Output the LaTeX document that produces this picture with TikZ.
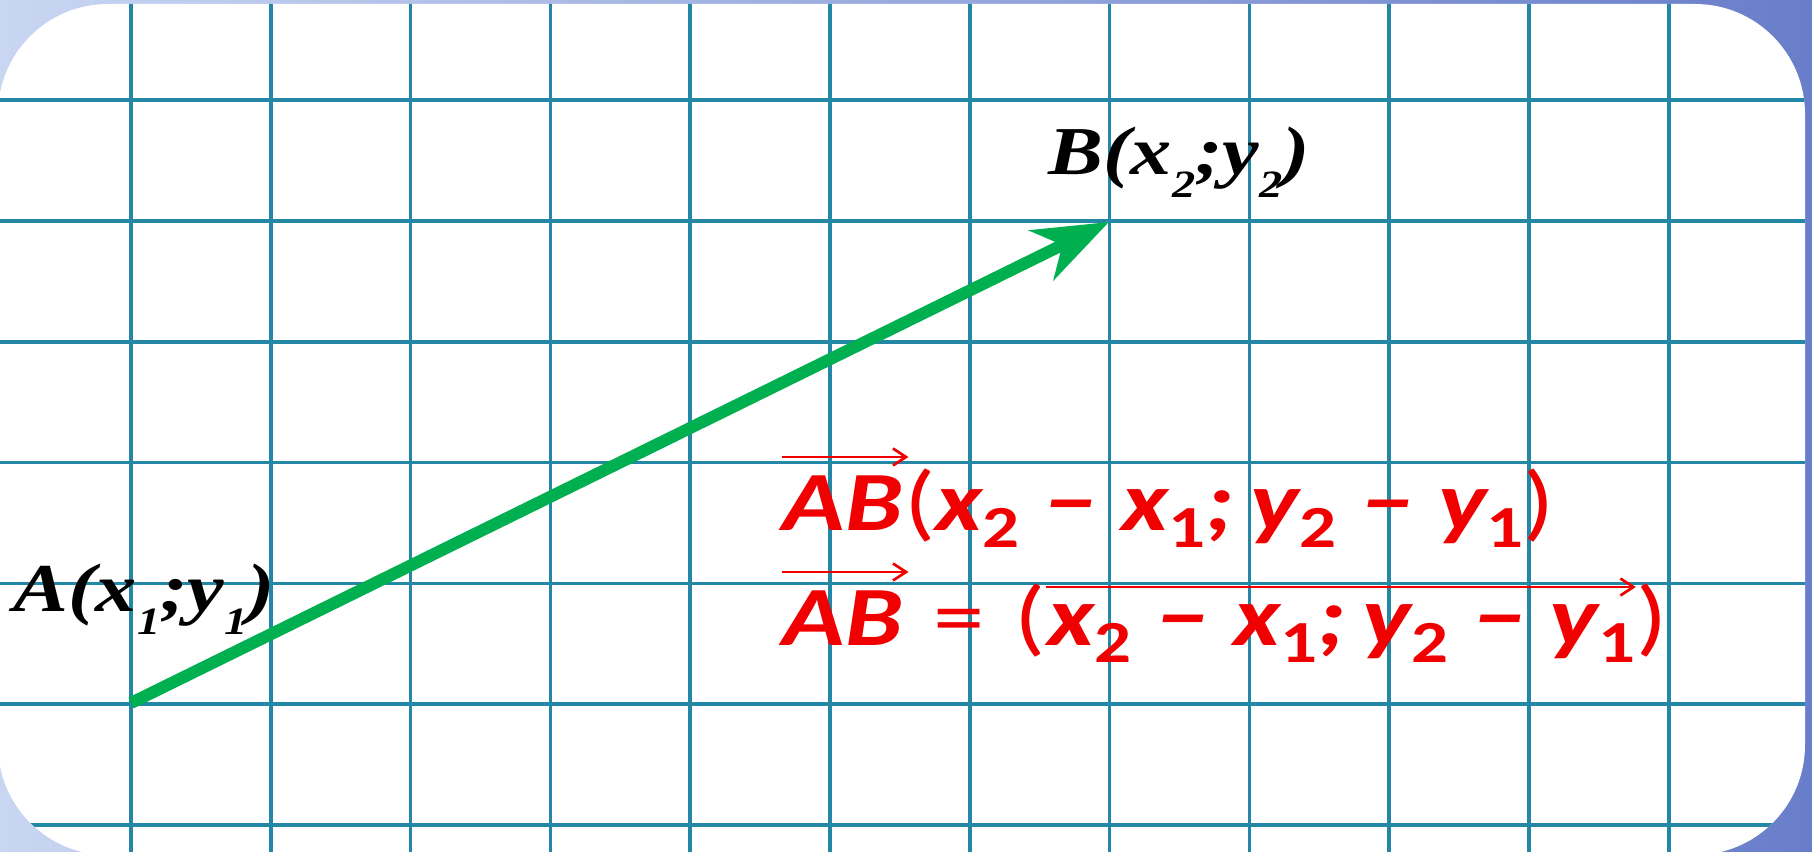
\documentclass[tikz,border=0pt]{standalone}
\usepackage{fontspec}
\setmainfont{Liberation Serif}
\newfontfamily\labelfont[FakeStretch=1.2]{Liberation Serif}
\newfontfamily\calibri[FakeStretch=1.22]{Carlito}
\usepackage{tikz}
\usetikzlibrary{arrows.meta}
\usepackage{xcolor}
\definecolor{gridteal}{RGB}{35,135,165}
\definecolor{vecgreen}{RGB}{0,176,80}
\definecolor{formred}{RGB}{240,0,0}
\definecolor{bgpale}{RGB}{200,214,242}
\definecolor{bgdeep}{RGB}{105,126,202}
\newcommand{\subdig}[1]{\raisebox{-5.1pt}{\fontsize{17}{17}\selectfont\upshape #1}}
\newcommand{\lblsub}[1]{\raisebox{-6.5pt}{\fontsize{11}{11}\selectfont #1}}
\newcommand{\mdpar}[1]{{\upshape\mdseries #1}}

\begin{document}
\begin{tikzpicture}[
  gridline/.style={gridteal, line width=0.035cm},
  vecarrow/.style={vecgreen, line width=0.12cm,
    -{Stealth[length=0.75cm, width=0.55cm, inset=0.23cm]}},
  overarrow/.style={formred, line width=0.027cm,
    -{Straight Barb[length=0.13cm, width=0.17cm]}},
  lbl/.style={font=\labelfont\fontsize{19.5}{20}\selectfont\bfseries\itshape,
    anchor=base west, inner sep=0pt},
  formula/.style={formred, font=\calibri\fontsize{24}{26}\selectfont\bfseries\itshape,
    anchor=base west, inner sep=0pt}
]
  \useasboundingbox (0,0) rectangle (18.12,8.51);

  % 背景
  \shade[left color=bgpale, right color=bgdeep] (0,0) rectangle (18.12,8.51);
  \fill[white, rounded corners=1.1cm] (-0.02,-0.04) rectangle (18.05,8.47);

  % 方格
  \begin{scope}
    \clip[rounded corners=1.1cm] (-0.02,-0.04) rectangle (18.05,8.47);
    \foreach \i in {0,...,11}
      \draw[gridline] ({1.31+1.398*\i},-0.2) -- ++(0,8.9);
    \foreach \j in {0,...,6}
      \draw[gridline] (-0.2,{0.26+1.208*\j}) -- ++(18.5,0);
  \end{scope}

  % 向量 AB
  \coordinate (A) at (1.31,1.48);
  \coordinate (B) at (11.09,6.29);
  \draw[vecarrow] (A) -- (B);

  % 端点标注
  \node[lbl] (labA) at (0.13,2.39) {A(x\lblsub{1};y\lblsub{1})};
  \node[lbl] (labB) at (10.48,6.76) {B(x\lblsub{2};y\lblsub{2})};

  % 第一行：坐标
  \node[formula] (ab1) at (7.82,3.21) {AB};
  \node[formula] (co1) at (ab1.base east)
    {\mdpar{(}x\subdig{2}\hspace{0.3em}−\hspace{0.3em}x\subdig{1};\hspace{0.2em}y\subdig{2}\hspace{0.3em}−\hspace{0.3em}y\subdig{1}\mdpar{)}};
  \draw[overarrow] ([yshift=0.73cm]ab1.base west) -- ([xshift=0.05cm, yshift=0.73cm]ab1.base east);

  % 第二行：等式
  \node[formula] (ab2) at (7.82,2.06) {AB};
  \node[formula] (eq2) at (ab2.base east) {\hspace{0.35em}\mdpar{=}\hspace{0.35em}\mdpar{(}};
  \node[formula] (df2) at (eq2.base east)
    {x\subdig{2}\hspace{0.3em}−\hspace{0.3em}x\subdig{1};\hspace{0.2em}y\subdig{2}\hspace{0.3em}−\hspace{0.3em}y\subdig{1}};
  \node[formula] (cl2) at (df2.base east) {\mdpar{)}};
  \draw[overarrow] ([yshift=0.73cm]ab2.base west) -- ([xshift=0.05cm, yshift=0.73cm]ab2.base east);
  \draw[overarrow] ([yshift=0.58cm]df2.base west) -- ([yshift=0.58cm]df2.base east);
\end{tikzpicture}
\end{document}
